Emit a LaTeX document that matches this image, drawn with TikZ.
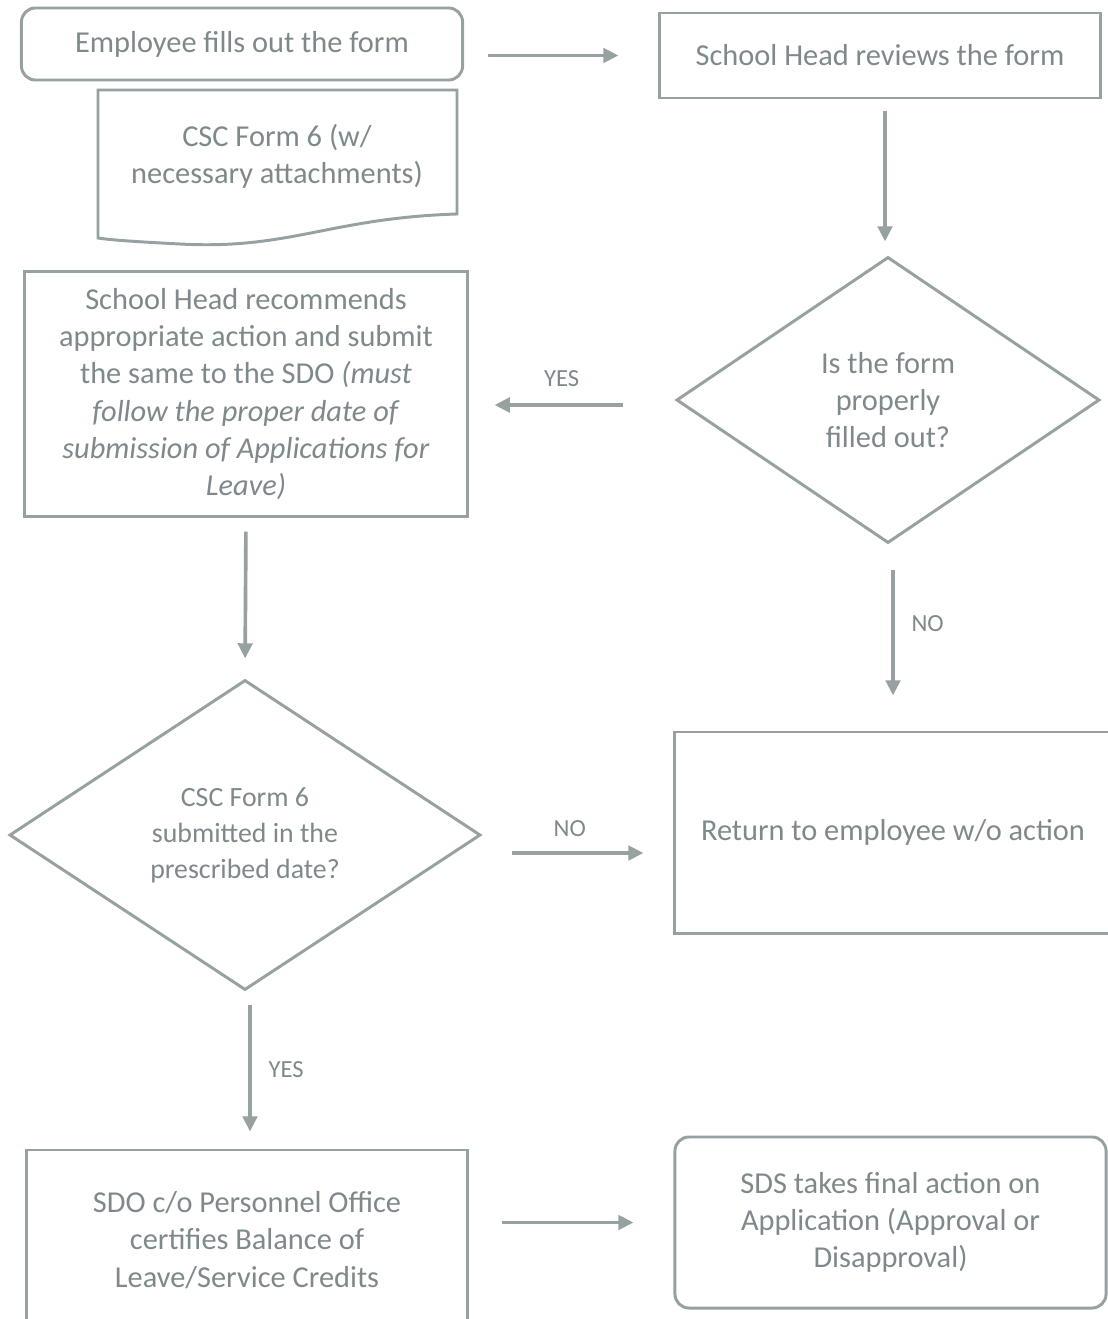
\documentclass[tikz,border=0pt]{standalone}
\usepackage{fontspec}
\setmainfont{Carlito}
\usetikzlibrary{shapes.geometric,arrows.meta}

\definecolor{inkgray}{HTML}{7F898B}
\definecolor{edgegray}{HTML}{98A1A2}

\tikzset{
  procbox/.style={draw=edgegray,line width=2.1pt,align=center,inner sep=0pt},
  roundbox/.style={procbox,rounded corners=0.35cm},
  decision/.style={draw=edgegray,line width=2.1pt,diamond,align=center,inner sep=0pt},
  flow/.style={draw=edgegray,line width=2.6pt,-{Triangle[length=0.38cm,width=0.36cm]}},
  lbl/.style={font=\fontsize{17.5}{20}\selectfont,text=inkgray}
}

\begin{document}
\begin{tikzpicture}[x=0.025cm,y=-0.025cm,
  every node/.style={text=inkgray,font=\fontsize{21.6}{26.5}\selectfont}]
\useasboundingbox[fill=white] (0,0) rectangle (1108,1319);

% first row
\node[roundbox,minimum width=11.025cm,minimum height=1.8cm] (emp) at (242,44) {Employee fills out the form};
\node[procbox,minimum width=11cm,minimum height=2.125cm] (rev) at (880,55.5) {School Head reviews the form};
\draw[edgegray,line width=2.1pt] (98,90) -- (457,90) -- (457,214)
  .. controls (330,218) and (290,250) .. (180,244)
  .. controls (140,242) and (110,240) .. (98,238) -- cycle;
\node[align=center] (form) at (277,156) {CSC Form 6 (w/\\necessary attachments)};

% second row
\node[procbox,minimum width=11.05cm,minimum height=6.1cm] (rec) at (246,394)
  {School Head recommends\\appropriate action and submit\\the same to the SDO \textit{(must}\\\textit{follow the proper date of}\\\textit{submission of Applications for}\\\textit{Leave)}};
\node[decision,minimum width=10.575cm,minimum height=7.15cm] (chk) at (888,400) {Is the form\\properly\\filled out?};

% third row
\node[decision,minimum width=11.775cm,minimum height=7.75cm,font=\fontsize{19.8}{25.5}\selectfont] (sub) at (245,835) {CSC Form 6\\submitted in the\\prescribed date?};
\node[procbox,minimum width=10.9cm,minimum height=5.025cm] (ret) at (893,832.5) {Return to employee w/o action};

% last row
\node[procbox,minimum width=11cm,minimum height=4.5cm] (sdo) at (247,1240) {SDO c/o Personnel Office\\certifies Balance of\\Leave/Service Credits};
\node[roundbox,minimum width=10.775cm,minimum height=4.275cm] (sds) at (890.5,1222.5) {SDS takes final action on\\Application (Approval or\\Disapproval)};

% connectors
\draw[flow,shorten <=0.6cm,shorten >=1cm] (emp.east |- rev.west) -- (rev.west);
\draw[flow,shorten <=0.3cm,shorten >=0.35cm] ([xshift=0.125cm]rev.south) -- ([xshift=0.125cm]rev.south |- chk.north);
\draw[flow,shorten <=1.3cm,shorten >=0.65cm] ([yshift=-0.125cm]chk.west) -- ([yshift=-0.125cm]chk.west -| rec.east)
  node[lbl,midway,above=0.3cm,xshift=-0.25cm] (yes1) {YES};
\draw[flow,shorten <=0.625cm,shorten >=0.875cm] ([xshift=0.125cm]chk.south) -- ([xshift=0.125cm]chk.south |- ret.north)
  node[lbl,midway,right=0.3cm,yshift=0.35cm] (no1) {NO};
\draw[flow,shorten <=0.35cm,shorten >=0.5cm] (rec.south) -- (sub.north);
\draw[flow,shorten <=0.75cm,shorten >=0.75cm] ([yshift=-0.45cm]sub.east) -- ([yshift=-0.45cm]sub.east -| ret.west)
  node[lbl,midway,above=0.25cm,xshift=-0.2cm] (no2) {NO};
\draw[flow,shorten <=0.325cm,shorten >=0.425cm] ([xshift=0.125cm]sub.south) -- ([xshift=0.125cm]sub.south |- sdo.north)
  node[lbl,midway,right=0.3cm] (yes2) {YES};
\draw[flow,shorten <=0.825cm,shorten >=1cm] (sdo.east |- sds.west) -- (sds.west);

\end{tikzpicture}
\end{document}
